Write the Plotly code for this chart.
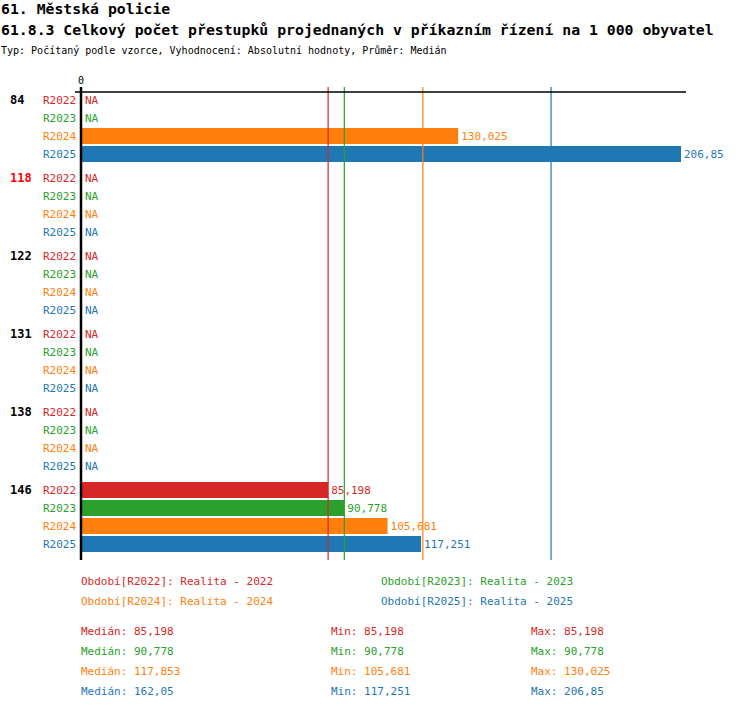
import plotly.graph_objects as go

# data
groups = ["84", "118", "122", "131", "138", "146"]
highlight = "118"
series = ["R2022", "R2023", "R2024", "R2025"]
colors = ["#d62728", "#2ca02c", "#ff7f0e", "#1f77b4"]
legend_names = ["Realita - 2022", "Realita - 2023", "Realita - 2024", "Realita - 2025"]

values = {
    "R2022": [None, None, None, None, None, 85.198],
    "R2023": [None, None, None, None, None, 90.778],
    "R2024": [130.025, None, None, None, None, 105.681],
    "R2025": [206.85, None, None, None, None, 117.251],
}
medians = [85.198, 90.778, 117.853, 162.05]
mins = [85.198, 90.778, 105.681, 117.251]
maxs = [85.198, 90.778, 130.025, 206.85]

title1 = "61. Městská policie"
title2 = "61.8.3 Celkový počet přestupků projednaných v příkazním řízení na 1 000 obyvatel"
subtitle = "Typ: Počítaný podle vzorce, Vyhodnocení: Absolutní hodnoty, Průměr: Medián"

# layout helpers (pixel based)
W, H = 750, 710
X0 = 81          # pixel of zero
SCALE = 600 / 206.85   # px per unit
ROW = 18
GROUP = 78
TOP = 100
MONO = "DejaVu Sans Mono"


def xd(px):
    return (px - X0) / SCALE


def fmt(v):
    return ("%g" % v).replace(".", ",")


def row_y(g, s):
    return TOP + g * GROUP + s * ROW


fig = go.Figure()
annotations = []
shapes = []

for s, name in enumerate(series):
    ys, xs, txt = [], [], []
    for g, v in enumerate(values[name]):
        y = row_y(g, s)
        annotations.append(dict(x=xd(78), y=y, text=name, showarrow=False,
                                xanchor="right", yanchor="middle",
                                font=dict(family=MONO, size=11, color=colors[s])))
        if v is None:
            annotations.append(dict(x=xd(83), y=y, text="NA", showarrow=False,
                                    xanchor="left", yanchor="middle",
                                    font=dict(family=MONO, size=11, color=colors[s])))
        else:
            ys.append(y)
            xs.append(v)
            txt.append(fmt(v))
    fig.add_trace(go.Bar(
        orientation="h", x=xs, y=ys, width=16,
        marker=dict(color=colors[s], line=dict(width=0)),
        text=txt, textposition="outside", cliponaxis=False, constraintext="none",
        textfont=dict(family=MONO, size=11, color=colors[s]),
        showlegend=False, hoverinfo="skip",
    ))

# group labels
for g, lab in enumerate(groups):
    annotations.append(dict(x=xd(8), y=row_y(g, 0), text="<b>%s</b>" % lab, showarrow=False,
                            xanchor="left", yanchor="middle",
                            font=dict(family=MONO, size=12,
                                      color="#ff0000" if lab == highlight else "black")))

# median lines
for s in range(len(series)):
    shapes.append(dict(type="line", x0=medians[s], x1=medians[s], y0=87, y1=560,
                       line=dict(color=colors[s], width=1.2)))

# axes
shapes.append(dict(type="line", x0=xd(75), x1=xd(686), y0=92, y1=92,
                   line=dict(color="black", width=1.5)))
shapes.append(dict(type="line", x0=0, x1=0, y0=87, y1=560,
                   line=dict(color="black", width=2.5)))
annotations.append(dict(x=0, y=80, text="0", showarrow=False, xanchor="center",
                        yanchor="middle", font=dict(family=MONO, size=10, color="black")))

# titles (paper coordinates)
for ty, txt, size, bold in [(9, title1, 14.8, True), (30, title2, 14.8, True), (50, subtitle, 10, False)]:
    annotations.append(dict(x=0, y=1 - ty / H, xref="paper", yref="paper",
                            text="<b>%s</b>" % txt if bold else txt, showarrow=False,
                            xanchor="left", yanchor="middle", borderpad=0,
                            font=dict(family=MONO, size=size, color="black")))

# legend
for s, name in enumerate(series):
    lx = 79 if s % 2 == 0 else 379
    ly = 581 + (s // 2) * 20
    annotations.append(dict(x=xd(lx), y=ly, text="Období[%s]: %s" % (name, legend_names[s]),
                            showarrow=False, xanchor="left", yanchor="middle",
                            font=dict(family=MONO, size=11, color=colors[s])))

# stats
for s in range(len(series)):
    ly = 631 + s * 20
    for lx, lab, v in [(79, "Medián", medians[s]), (329, "Min", mins[s]), (529, "Max", maxs[s])]:
        annotations.append(dict(x=xd(lx), y=ly, text="%s: %s" % (lab, fmt(v)),
                                showarrow=False, xanchor="left", yanchor="middle",
                                font=dict(family=MONO, size=11, color=colors[s])))

fig.update_layout(
    width=W, height=H,
    margin=dict(l=0, r=0, t=0, b=0, autoexpand=False),
    paper_bgcolor="white", plot_bgcolor="white",
    xaxis=dict(range=[xd(0), xd(W)], visible=False, fixedrange=True),
    yaxis=dict(range=[H, 0], visible=False, fixedrange=True),
    barmode="overlay",
    shapes=shapes, annotations=annotations,
    showlegend=False,
)

fig.write_html("out.html", config={"displayModeBar": False},
               post_script="document.body.style.margin='0';")
